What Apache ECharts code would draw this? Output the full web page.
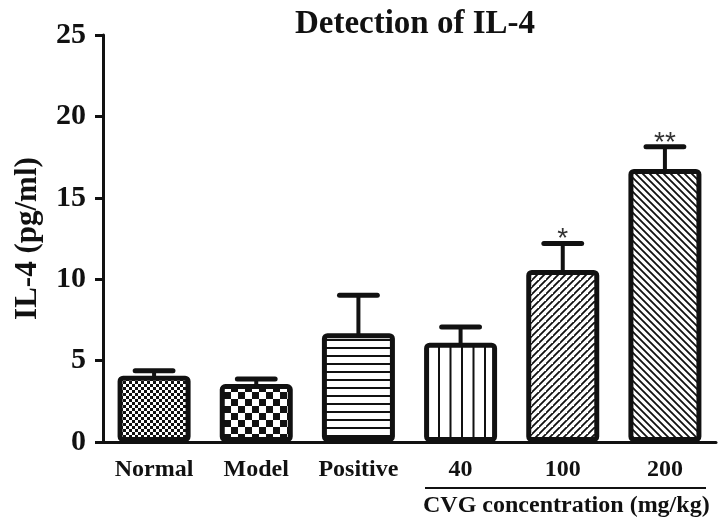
<!DOCTYPE html>
<html>
<head>
<meta charset="utf-8">
<script src="https://cdn.jsdelivr.net/npm/echarts@6/dist/echarts.min.js"></script>
<style>
html,body{margin:0;padding:0;background:#fff;}
#chart{width:724px;height:528px;}
</style>
</head>
<body>
<div id="chart"></div>
<script>
// ---- data ----
const categories = ['Normal', 'Model', 'Positive', '40', '100', '200'];
const means = [4.07, 3.56, 6.68, 6.1, 10.57, 16.77];
const errors = [0.31, 0.31, 2.33, 0.96, 1.63, 1.36];
const significance = ['', '', '', '', '*', '**'];
const yTicks = { min: 0, max: 25, interval: 5 };
const titleText = 'Detection of IL-4';
const yAxisName = 'IL-4 (pg/ml)';
const groupLabel = 'CVG concentration (mg/kg)';

// ---- styles ----
const patternTypes = ['fineChecker', 'coarseChecker', 'hLines', 'vLines', 'diagUp', 'diagDown'];
const INK = '#111';
const SERIF = '"Liberation Serif", "Times New Roman", serif';

function makePattern(type) {
  const c = document.createElement('canvas');
  let w = 8, h = 8;
  if (type === 'fineChecker') { w = h = 6; }
  if (type === 'coarseChecker') { w = h = 14; }
  if (type === 'hLines') { w = 4; h = 8; }
  if (type === 'vLines') { w = 23; h = 4; }
  if (type === 'diagUp' || type === 'diagDown') { w = h = 7; }
  c.width = w; c.height = h;
  const g = c.getContext('2d');
  g.fillStyle = '#fff'; g.fillRect(0, 0, w, h);
  g.fillStyle = INK; g.strokeStyle = INK;
  if (type === 'fineChecker') {
    g.fillRect(0, 0, 3, 3); g.fillRect(3, 3, 3, 3);
  } else if (type === 'coarseChecker') {
    g.fillRect(0, 0, 7, 7); g.fillRect(7, 7, 7, 7);
  } else if (type === 'hLines') {
    g.fillRect(0, 3, w, 2);
  } else if (type === 'vLines') {
    g.fillRect(1, 0, 2, h); g.fillRect(12.5, 0, 2, h);
  } else if (type === 'diagUp') {
    g.lineWidth = 1.8;
    g.beginPath();
    g.moveTo(-1, h + 1); g.lineTo(w + 1, -1);
    g.moveTo(-1 - w, h + 1); g.lineTo(1, -1);
    g.moveTo(w - 1, 2 * h + 1); g.lineTo(2 * w + 1, h - 1);
    g.stroke();
  } else if (type === 'diagDown') {
    g.lineWidth = 1.8;
    g.beginPath();
    g.moveTo(-1, -1); g.lineTo(w + 1, h + 1);
    g.moveTo(-1 - w, -1); g.lineTo(1, h + 1);
    g.moveTo(w - 1, -1); g.lineTo(2 * w + 1, h + 1);
    g.stroke();
  }
  return { image: c, repeat: 'repeat' };
}

const chart = echarts.init(document.getElementById('chart'), null, { renderer: 'canvas' });

const option = {
  backgroundColor: '#fff',
  animation: false,
  title: {
    text: titleText,
    left: 410,
    textAlign: 'center',
    top: 3,
    textStyle: { fontFamily: SERIF, fontWeight: 'bold', fontSize: 33, color: INK }
  },
  grid: { left: 103, right: 8, top: 35, bottom: 86, containLabel: false },
  xAxis: {
    type: 'category',
    data: categories,
    axisLine: { lineStyle: { color: INK, width: 3 } },
    axisTick: { alignWithLabel: true, length: 8, lineStyle: { color: INK, width: 3 } },
    axisLabel: { interval: 0, fontFamily: SERIF, fontWeight: 'bold', fontSize: 24, color: INK, margin: 16 }
  },
  yAxis: {
    type: 'value',
    min: yTicks.min, max: yTicks.max, interval: yTicks.interval,
    name: yAxisName,
    nameLocation: 'middle',
    nameGap: 60,
    nameTextStyle: { fontFamily: SERIF, fontWeight: 'bold', fontSize: 31, color: INK },
    axisLine: { show: true, lineStyle: { color: INK, width: 3 } },
    axisTick: { show: true, length: 8, lineStyle: { color: INK, width: 3 } },
    splitLine: { show: false },
    axisLabel: { fontFamily: SERIF, fontWeight: 'bold', fontSize: 30, color: INK, margin: 17 }
  },
  series: [
    {
      type: 'bar',
      barWidth: 73,
      data: means.map((v, i) => ({
        value: v,
        itemStyle: { color: makePattern(patternTypes[i]) }
      })),
      itemStyle: { borderColor: INK, borderWidth: 5, borderRadius: 3 },
      z: 2
    },
    {
      type: 'custom',
      data: categories.map((c, i) => [i, means[i], errors[i]]),
      z: 3,
      renderItem: function (params, api) {
        const x = api.value(0), m = api.value(1), e = api.value(2);
        const base = api.coord([x, m]);
        const top = api.coord([x, m + e]);
        const half = api.size([1, 0])[0] * 0.185;
        const sig = significance[params.dataIndex];
        const children = [
          { type: 'line', shape: { x1: base[0], y1: base[1] + 2, x2: base[0], y2: top[1] },
            style: { stroke: INK, lineWidth: 4 } },
          { type: 'line', shape: { x1: base[0] - half, y1: top[1], x2: base[0] + half, y2: top[1] },
            style: { stroke: INK, lineWidth: 5, lineCap: 'round' } }
        ];
        if (sig) {
          children.push({
            type: 'text',
            style: {
              text: sig, x: base[0], y: top[1] - 4,
              align: 'center', verticalAlign: 'middle',
              fontFamily: '"Liberation Sans", sans-serif', fontSize: 28, fill: '#333'
            }
          });
        }
        return { type: 'group', children: children };
      }
    }
  ],
  graphic: [
    { type: 'line', shape: { x1: 425, y1: 488, x2: 706, y2: 488 }, style: { stroke: INK, lineWidth: 2 } },
    { type: 'text', left: 423, top: 494,
      style: { text: groupLabel, fontFamily: SERIF, fontWeight: 'bold', fontSize: 24, fill: INK } }
  ]
};
chart.setOption(option);
</script>
</body>
</html>
